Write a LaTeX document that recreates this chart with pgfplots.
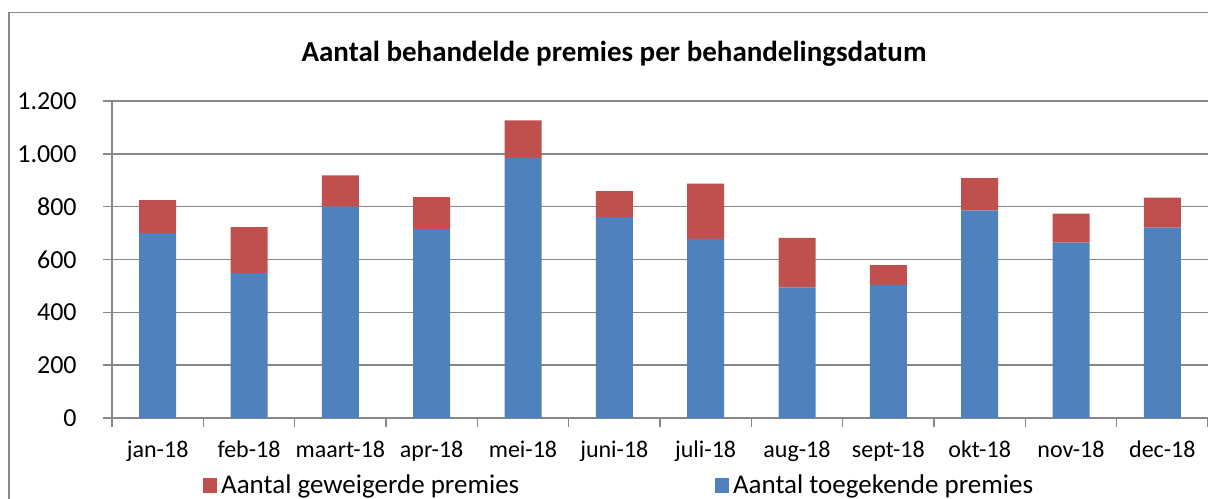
\documentclass[border=0pt]{standalone}
\usepackage{fontspec}
\setmainfont{Carlito}
\usepackage{pgfplots}
\pgfplotsset{compat=1.18}
\definecolor{toeg}{HTML}{4F81BD}
\definecolor{gew}{HTML}{C0504D}
\definecolor{rand}{HTML}{878787}

\begin{document}
\begin{tikzpicture}
\useasboundingbox (0pt,0pt) rectangle (604pt,249pt);
\draw[rand, line width=0.8pt] (4.5pt,-5pt) -- (4.5pt,242.75pt) -- (610pt,242.75pt);
\node[font=\bfseries\fontsize{14.5}{17}\selectfont, anchor=base] at (307pt,218pt)
  {Aantal behandelde premies per behandelingsdatum};
\begin{axis}[
  at={(56pt,40pt)}, anchor=south west,
  scale only axis, width=548pt, height=158.5pt,
  ybar stacked, bar width=18.5pt,
  xmin=-0.5, xmax=11.5, ymin=0, ymax=1200,
  axis x line*=bottom, axis y line*=left,
  axis line style={rand, line width=0.75pt, -},
  tick style={rand, line width=0.75pt},
  tick align=outside, major tick length=4.5pt,
  xtick={-0.5,0.5,...,11.5}, xticklabels={},
  extra x ticks={0,1,2,3,4,5,6,7,8,9,10,11},
  extra x tick labels={jan-18,feb-18,maart-18,apr-18,mei-18,juni-18,juli-18,aug-18,sept-18,okt-18,nov-18,dec-18},
  extra x tick style={major tick length=0pt, grid=none,
    xticklabel style={font=\fontsize{12}{14}\selectfont, anchor=base, yshift=-19.5pt, inner sep=0pt}},
  ytick={0,200,...,1200},
  ymajorgrids, grid style={rand, line width=0.75pt},
  scaled y ticks=false,
  yticklabel style={font=\fontsize{13}{15}\selectfont, anchor=east, inner sep=0pt, xshift=-13pt,
    /pgf/number format/.cd, 1000 sep={.}, assume math mode=true},
  legend columns=2,
  legend style={at={(0.083,-0.212)}, anchor=west, draw=none, fill=none, inner sep=0pt,
    font=\fontsize{13.5}{15}\selectfont,
    /tikz/every odd column/.append style={column sep=0pt},
    /tikz/every even column/.append style={column sep=96pt}},
  legend cell align=left,
]
\addplot[fill=toeg, draw=none, forget plot] coordinates {
  (0,700) (1,548) (2,800) (3,715) (4,985) (5,760) (6,678) (7,494) (8,504) (9,786) (10,664) (11,721)};
\addplot[fill=gew, draw=none, forget plot] coordinates {
  (0,125) (1,175) (2,118) (3,121) (4,142) (5,99) (6,209) (7,188) (8,75) (9,122) (10,110) (11,113)};
\addlegendimage{legend image code/.code={\fill[gew] (0pt,-3.5pt) rectangle (6.5pt,3.5pt);}}
\addlegendentry{Aantal geweigerde premies}
\addlegendimage{legend image code/.code={\fill[toeg] (0pt,-3.5pt) rectangle (6.5pt,3.5pt);}}
\addlegendentry{Aantal toegekende premies}
\end{axis}
\end{tikzpicture}
\end{document}
